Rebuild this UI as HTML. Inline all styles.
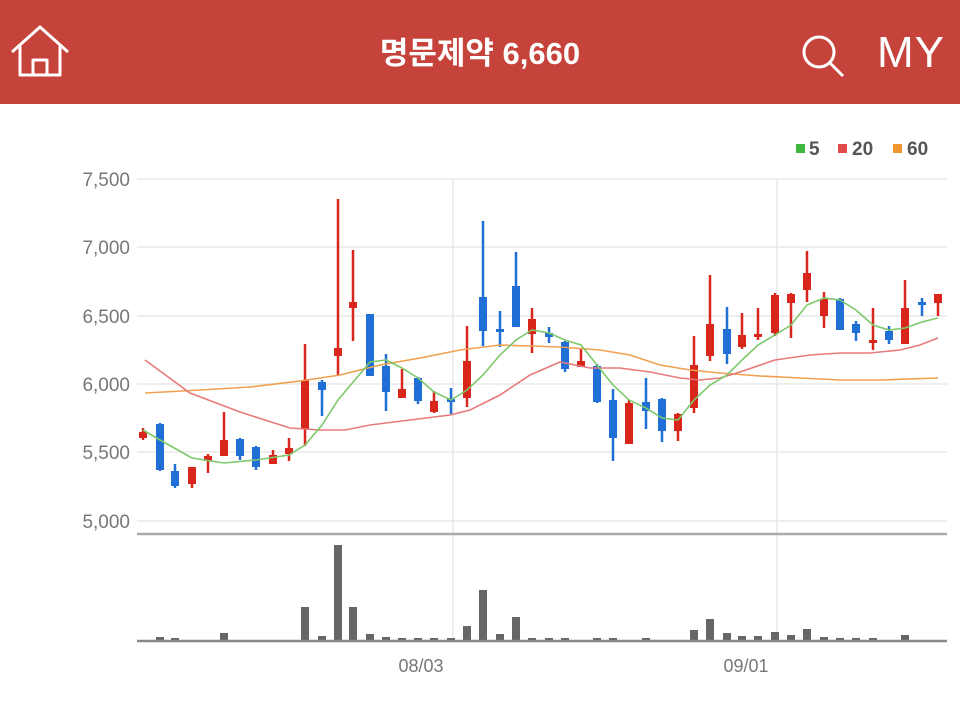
<!DOCTYPE html>
<html><head><meta charset="utf-8"><style>
html,body{margin:0;padding:0;background:#fff;width:960px;height:728px;overflow:hidden;font-family:"Liberation Sans","Noto Sans CJK KR",sans-serif}
.hdr{position:absolute;left:0;top:0;width:960px;height:104px;background:#c5433a}
.ttl{position:absolute;left:0;width:960px;top:28px;text-align:center;color:#fff;font-size:31px;font-weight:bold;font-family:"Liberation Sans","Noto Sans CJK KR",sans-serif}
.my{position:absolute;left:877px;top:28px;color:#fff;font-size:44px;letter-spacing:1px}
</style></head><body>
<div class="hdr">
<svg width="960" height="104" style="position:absolute;left:0;top:0">
<g fill="none" stroke="#fff" stroke-width="3" stroke-linejoin="round">
<path d="M12 52 L40 27 L68 52"/><path d="M20 46 V75 H60 V46"/><path d="M33 75 V60 H47 V75"/>
<circle cx="819" cy="52" r="15"/><path d="M830 63 L843 76"/>
</g></svg>
<div class="ttl">명문제약 6,660</div>
<div class="my">MY</div>
</div>
<svg id="c" width="960" height="728" style="position:absolute;left:0;top:0;font-family:'Liberation Sans',sans-serif"></svg>
<script>
const s=document.getElementById('c');let h='';
[179,247,316,384,452,521].forEach((y,i)=>{h+=`<line x1="137" x2="947" y1="${y}" y2="${y}" stroke="#e8e8e8" stroke-width="1.5"/>`;
h+=`<text x="130" y="${y+7}" text-anchor="end" font-size="19" fill="#777">${['7,500','7,000','6,500','6,000','5,500','5,000'][i]}</text>`});
[453,777].forEach(x=>h+=`<line x1="${x}" x2="${x}" y1="179" y2="641" stroke="#e8e8e8" stroke-width="1.5"/>`);
h+=`<line x1="137" x2="947" y1="534" y2="534" stroke="#aaa" stroke-width="2.5"/>`;
h+=`<text x="421" y="672" text-anchor="middle" font-size="18" fill="#777">08/03</text><text x="746" y="672" text-anchor="middle" font-size="18" fill="#777">09/01</text>`;
h+=`<rect x="796" y="144" width="9" height="9" fill="#3fb83f"/><text x="809" y="155" font-size="19" font-weight="bold" fill="#555">5</text>`;
h+=`<rect x="838" y="144" width="9" height="9" fill="#e04a4a"/><text x="852" y="155" font-size="19" font-weight="bold" fill="#555">20</text>`;
h+=`<rect x="893" y="144" width="9" height="9" fill="#f0962f"/><text x="907" y="155" font-size="19" font-weight="bold" fill="#555">60</text>`;
const C=[[143,'r',428,432,438,440],[160,'b',423,424,470,471],[175,'b',464,471,486,488],[192,'r',467,467,484,488],[208,'r',454,456,461,473],[224,'r',412,440,456,456],[240,'b',438,439,456,460],[256,'b',446,447,467,470],[273,'r',450,455,464,464],[289,'r',438,448,454,461],[305,'r',344,380,429,446],[322,'b',380,382,390,416],[338,'r',199,348,356,376],[353,'r',250,302,308,341],[370,'b',314,314,376,376],[386,'b',354,366,392,411],[402,'r',369,389,398,398],[418,'b',377,378,401,404],[434,'r',391,401,412,413],[451,'b',388,399,401,414],[467,'r',326,361,398,407],[483,'b',221,297,331,346],[500,'b',311,329,331,347],[516,'b',252,286,327,327],[532,'r',308,319,334,353],[549,'b',327,333,337,343],[565,'b',341,342,369,372],[581,'r',349,361,367,367],[597,'b',364,366,402,403],[613,'b',389,400,438,461],[629,'r',400,403,444,444],[646,'b',378,402,411,429],[662,'b',398,399,431,442],[678,'r',413,414,431,441],[694,'r',336,365,408,413],[710,'r',275,324,356,361],[727,'b',307,329,354,364],[742,'r',313,335,347,349],[758,'r',308,334,337,340],[775,'r',293,295,333,336],[791,'r',293,294,303,338],[807,'r',251,273,290,302],[824,'r',292,299,316,328],[840,'b',298,299,330,330],[856,'b',321,324,333,341],[873,'r',308,340,342,350],[889,'b',326,331,340,344],[905,'r',280,308,344,344],[922,'b',298,302,304,316],[938,'r',294,294,303,316]];
const V={2:637,3:638,6:633,11:607,12:636,13:545,14:607,15:634,16:637,17:638,18:638,19:638,20:638,21:626,22:590,23:634,24:617,25:638,26:638,27:638,29:638,30:638,32:638,35:630,36:619,37:633,38:636,39:636,40:632,41:635,42:629,43:637,44:638,45:638,46:638,48:635};
C.forEach((c,i)=>{const col=c[1]=='r'?'#d9261c':'#1f6fd6';
h+=`<line x1="${c[0]}" x2="${c[0]}" y1="${c[2]}" y2="${c[5]}" stroke="${col}" stroke-width="2.5"/>`;
h+=`<rect x="${c[0]-4}" y="${c[3]}" width="8" height="${Math.max(3,c[4]-c[3])}" fill="${col}"/>`;
const vy=V[i+1];if(vy)h+=`<rect x="${c[0]-4}" y="${vy}" width="8" height="${641-vy}" fill="#666"/>`;});
h+=`<line x1="137" x2="947" y1="641" y2="641" stroke="#888" stroke-width="2.5"/>`;
const pl=(p,c)=>h+=`<polyline fill="none" stroke="${c}" stroke-width="1.6" points="${p}"/>`;
pl('145,393 200,390 250,387 300,381 340,375 380,365 420,358 460,350 500,345 530,346 560,347 600,350 630,355 660,365 690,370 720,373 760,376 800,378 840,380 880,380 938,378','#f0a050');
pl('145,360 190,393 240,412 290,428 320,430 345,430 370,425 410,420 450,415 470,410 500,395 530,375 560,362 590,368 620,368 650,372 680,378 700,380 720,378 740,372 775,360 810,355 840,353 870,353 900,350 920,345 938,338','#e77a7a');
pl('143,430 160,440 192,458 224,463 256,460 289,455 305,445 322,425 338,400 370,362 386,360 402,368 418,378 434,392 451,400 467,390 483,375 500,355 516,340 532,330 549,333 565,340 581,345 597,365 613,385 629,400 646,408 662,418 678,420 694,400 710,385 727,375 742,360 758,345 775,335 791,325 807,305 824,298 840,300 856,310 873,325 889,330 905,328 922,322 938,318','#7cc86a');
s.innerHTML=h;
</script>
</body></html>
